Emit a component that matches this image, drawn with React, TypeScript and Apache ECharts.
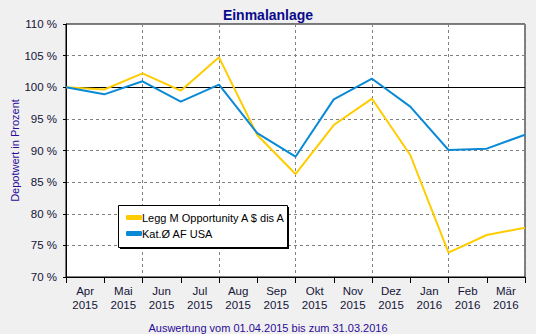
import React, { useEffect, useRef } from "react";
import * as echarts from "echarts";

const pointCats = ["2015-04", "2015-05", "2015-06", "2015-07", "2015-08", "2015-09", "2015-10", "2015-11", "2015-12", "2016-01", "2016-02", "2016-03", "2016-04"];
const monthLabels = ["Apr\n2015", "Mai\n2015", "Jun\n2015", "Jul\n2015", "Aug\n2015", "Sep\n2015", "Okt\n2015", "Nov\n2015", "Dez\n2015", "Jan\n2016", "Feb\n2016", "Mär\n2016"];
const fundName = "Legg M Opportunity A $ dis A";
const fundValues = [100, 99.65, 102.2, 99.46, 104.73, 92.45, 86.28, 94.03, 98.19, 89.29, 73.85, 76.64, 77.8];
const catName = "Kat.Ø AF USA";
const catValues = [100, 98.88, 100.94, 97.72, 100.41, 92.75, 89.02, 98.09, 101.35, 96.93, 90.08, 90.29, 92.5];

const FONT = "'Liberation Sans', Arial, sans-serif";

export default function App() {
  const ref = useRef<HTMLDivElement>(null);
  useEffect(() => {
    document.body.style.margin = "0";
    const chart = echarts.init(ref.current!, null, { renderer: "svg" });
    chart.setOption({
      animation: false,
      backgroundColor: "#f0f0f0",
      textStyle: { fontFamily: FONT },
      title: [
        {
          text: "Einmalanlage",
          left: "center",
          top: 3,
          textStyle: { fontFamily: FONT, fontSize: 14, fontWeight: "bold", color: "#0a0a8c" },
        },
        {
          text: "Auswertung vom 01.04.2015 bis zum 31.03.2016",
          left: "center",
          top: 317,
          textStyle: { fontFamily: FONT, fontSize: 11, fontWeight: "normal", color: "#2a0a9a" },
        },
      ],
      grid: { left: 66, right: 11, top: 24, bottom: 57, outerBoundsMode: "none", containLabel: false, show: true, backgroundColor: "#ffffff", borderColor: "#000", borderWidth: 1 },
      legend: {
        orient: "vertical",
        left: 121,
        top: 207,
        itemWidth: 16,
        itemHeight: 5,
        itemGap: 5,
        icon: "roundRect",
        z: 10,
        textStyle: { fontFamily: FONT, fontSize: 11, color: "#000", padding: [0, 0, 0, -5] },
        data: [fundName, catName],
      },
      graphic: [
        { type: "rect", z: 8, shape: { x: 120, y: 207, width: 169, height: 42 }, style: { fill: "#000" } },
        { type: "rect", z: 9, shape: { x: 118.5, y: 205.5, width: 169, height: 42 }, style: { fill: "#fff", stroke: "#000", lineWidth: 1 } },
      ],
      xAxis: [
        {
          type: "category",
          data: pointCats,
          boundaryGap: false,
          axisLine: { show: false },
          axisTick: { show: false },
          axisLabel: { show: false },
          splitLine: { show: true, lineStyle: { color: "#808080", type: [3, 3], width: 1 } },
        },
        {
          type: "category",
          data: monthLabels,
          boundaryGap: true,
          position: "bottom",
          axisLine: { show: true, lineStyle: { color: "#000", width: 1 } },
          axisTick: { show: true, length: 6, lineStyle: { color: "#000" } },
          axisLabel: { fontFamily: FONT, fontSize: 11.5, color: "#141438", lineHeight: 14, margin: 7 },
          splitLine: { show: false },
        },
      ],
      yAxis: {
        type: "value",
        min: 70,
        max: 110,
        interval: 5,
        name: "Depotwert in Prozent",
        nameLocation: "middle",
        nameGap: 46,
        nameMoveOverlap: false,
        nameTextStyle: { fontFamily: FONT, fontSize: 11, color: "#2a0a9a" },
        axisLine: { show: true, lineStyle: { color: "#000" } },
        axisTick: { show: true, length: 3, lineStyle: { color: "#000" } },
        axisLabel: { formatter: "{value} %", fontFamily: FONT, fontSize: 11.5, color: "#141438", margin: 9 },
        splitLine: { show: true, lineStyle: { color: "#808080", type: [3, 3], width: 1 } },
      },
      series: [
        {
          name: fundName,
          type: "line",
          xAxisIndex: 0,
          data: fundValues,
          symbol: "none",
          lineStyle: { color: "#ffcc00", width: 2 },
          itemStyle: { color: "#ffcc00" },
          z: 3,
          markLine: {
            silent: true,
            symbol: "none",
            label: { show: false },
            lineStyle: { color: "#000", type: "solid", width: 1 },
            data: [{ yAxis: 100 }],
            z: 1,
          },
        },
        {
          name: catName,
          type: "line",
          xAxisIndex: 0,
          data: catValues,
          symbol: "none",
          lineStyle: { color: "#0a8ad6", width: 2 },
          itemStyle: { color: "#0a8ad6" },
          z: 3,
        },
      ],
    });
    return () => chart.dispose();
  }, []);
  return <div ref={ref} style={{ width: 536, height: 334 }} />;
}
